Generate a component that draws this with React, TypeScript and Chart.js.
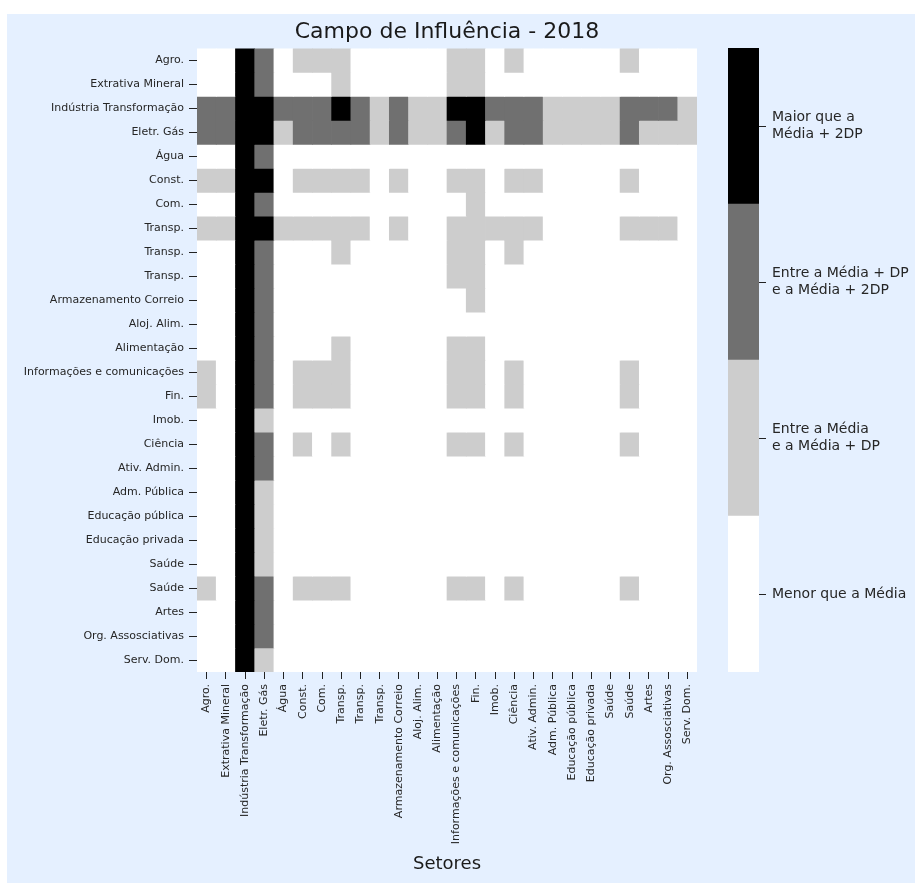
import React, { useEffect, useRef } from 'react';
import { Chart, registerables } from 'chart.js';

Chart.register(...registerables);

const chartTitle = 'Campo de Influência - 2018';
const xAxisTitle = 'Setores';

const sectors = [
  'Agro.', 'Extrativa Mineral', 'Indústria Transformação', 'Eletr. Gás', 'Água',
  'Const.', 'Com.', 'Transp.', 'Transp.', 'Transp.', 'Armazenamento Correio',
  'Aloj. Alim.', 'Alimentação', 'Informações e comunicações', 'Fin.', 'Imob.',
  'Ciência', 'Ativ. Admin.', 'Adm. Pública', 'Educação pública', 'Educação privada',
  'Saúde', 'Saúde', 'Artes', 'Org. Assosciativas', 'Serv. Dom.',
];

// Levels: 0 = Menor que a Média, 1 = Entre a Média e a Média + DP,
// 2 = Entre a Média + DP e a Média + 2DP, 3 = Maior que a Média + 2DP
const agro =          [0,0,3,2,0,1,1,1,0,0,0,0,0,1,1,0,1,0,0,0,0,0,1,0,0,0];
const extrativa =     [0,0,3,2,0,0,0,1,0,0,0,0,0,1,1,0,0,0,0,0,0,0,0,0,0,0];
const industria =     [2,2,3,3,2,2,2,3,2,1,2,1,1,3,3,2,2,2,1,1,1,1,2,2,2,1];
const eletrGas =      [2,2,3,3,1,2,2,2,2,1,2,1,1,2,3,1,2,2,1,1,1,1,2,1,1,1];
const agua =          [0,0,3,2,0,0,0,0,0,0,0,0,0,0,0,0,0,0,0,0,0,0,0,0,0,0];
const construcao =    [1,1,3,3,0,1,1,1,1,0,1,0,0,1,1,0,1,1,0,0,0,0,1,0,0,0];
const comercio =      [0,0,3,2,0,0,0,0,0,0,0,0,0,0,1,0,0,0,0,0,0,0,0,0,0,0];
const transp1 =       [1,1,3,3,1,1,1,1,1,0,1,0,0,1,1,1,1,1,0,0,0,0,1,1,1,0];
const transp2 =       [0,0,3,2,0,0,0,1,0,0,0,0,0,1,1,0,1,0,0,0,0,0,0,0,0,0];
const transp3 =       [0,0,3,2,0,0,0,0,0,0,0,0,0,1,1,0,0,0,0,0,0,0,0,0,0,0];
const armazenamento = [0,0,3,2,0,0,0,0,0,0,0,0,0,0,1,0,0,0,0,0,0,0,0,0,0,0];
const alojAlim =      [0,0,3,2,0,0,0,0,0,0,0,0,0,0,0,0,0,0,0,0,0,0,0,0,0,0];
const alimentacao =   [0,0,3,2,0,0,0,1,0,0,0,0,0,1,1,0,0,0,0,0,0,0,0,0,0,0];
const informacoes =   [1,0,3,2,0,1,1,1,0,0,0,0,0,1,1,0,1,0,0,0,0,0,1,0,0,0];
const financas =      [1,0,3,2,0,1,1,1,0,0,0,0,0,1,1,0,1,0,0,0,0,0,1,0,0,0];
const imobiliario =   [0,0,3,1,0,0,0,0,0,0,0,0,0,0,0,0,0,0,0,0,0,0,0,0,0,0];
const ciencia =       [0,0,3,2,0,1,0,1,0,0,0,0,0,1,1,0,1,0,0,0,0,0,1,0,0,0];
const ativAdmin =     [0,0,3,2,0,0,0,0,0,0,0,0,0,0,0,0,0,0,0,0,0,0,0,0,0,0];
const admPublica =    [0,0,3,1,0,0,0,0,0,0,0,0,0,0,0,0,0,0,0,0,0,0,0,0,0,0];
const educPublica =   [0,0,3,1,0,0,0,0,0,0,0,0,0,0,0,0,0,0,0,0,0,0,0,0,0,0];
const educPrivada =   [0,0,3,1,0,0,0,0,0,0,0,0,0,0,0,0,0,0,0,0,0,0,0,0,0,0];
const saude1 =        [0,0,3,1,0,0,0,0,0,0,0,0,0,0,0,0,0,0,0,0,0,0,0,0,0,0];
const saude2 =        [1,0,3,2,0,1,1,1,0,0,0,0,0,1,1,0,1,0,0,0,0,0,1,0,0,0];
const artes =         [0,0,3,2,0,0,0,0,0,0,0,0,0,0,0,0,0,0,0,0,0,0,0,0,0,0];
const orgAssoc =      [0,0,3,2,0,0,0,0,0,0,0,0,0,0,0,0,0,0,0,0,0,0,0,0,0,0];
const servDom =       [0,0,3,1,0,0,0,0,0,0,0,0,0,0,0,0,0,0,0,0,0,0,0,0,0,0];

const rows = [
  agro, extrativa, industria, eletrGas, agua, construcao, comercio, transp1, transp2,
  transp3, armazenamento, alojAlim, alimentacao, informacoes, financas, imobiliario,
  ciencia, ativAdmin, admPublica, educPublica, educPrivada, saude1, saude2, artes,
  orgAssoc, servDom,
];

const levelColors = ['#ffffff', '#cdcdcd', '#707070', '#000000'];
const levelLabels: (string | string[])[] = [
  'Menor que a Média',
  ['Entre a Média', 'e a Média + DP'],
  ['Entre a Média + DP', 'e a Média + 2DP'],
  ['Maior que a', 'Média + 2DP'],
];

const FONT = 'DejaVu Sans';
const TEXT = '#262626';
const BG = '#e5f0ff';

export default function App() {
  const mainRef = useRef<HTMLCanvasElement>(null);
  const barRef = useRef<HTMLCanvasElement>(null);

  useEffect(() => {
    const main = new Chart(mainRef.current!, {
      type: 'bar',
      data: {
        labels: sectors,
        datasets: rows.map((row, r) => ({
          label: sectors[r],
          data: row.map(() => [r, r + 1]) as any,
          backgroundColor: row.map((v) => levelColors[v]),
          borderWidth: 0,
          grouped: false,
          categoryPercentage: 1,
          barPercentage: 1,
        })),
      },
      options: {
        animation: false,
        responsive: false,
        devicePixelRatio: 1,
        layout: { padding: { left: 0, right: 10, top: 0, bottom: 0 } },
        plugins: {
          legend: { display: false },
          tooltip: { enabled: false },
          title: {
            display: true,
            text: chartTitle,
            fullSize: false,
            color: '#1a1a1a',
            font: { family: FONT, size: 22, weight: 'normal' },
            padding: { top: 5, bottom: 3 },
          },
        },
        scales: {
          x: {
            type: 'category',
            offset: true,
            grid: { offset: false, drawOnChartArea: false, drawTicks: true, tickLength: 7, color: '#222', lineWidth: 1 },
            border: { display: false },
            ticks: {
              autoSkip: false,
              minRotation: 90,
              maxRotation: 90,
              padding: 5,
              color: TEXT,
              font: { family: FONT, size: 11 },
            },
            title: {
              display: true,
              text: xAxisTitle,
              color: '#1a1a1a',
              font: { family: FONT, size: 18 },
              padding: { top: 4, bottom: 8 },
            },
            afterFit: (s: any) => { s.height = 211; },
          },
          y: {
            type: 'linear',
            min: 0,
            max: sectors.length,
            reverse: true,
            afterBuildTicks: (s: any) => { s.ticks = sectors.map((_, i) => ({ value: i + 0.5 })); },
            ticks: {
              autoSkip: false,
              padding: 5,
              color: TEXT,
              font: { family: FONT, size: 11 },
              callback: (_v: any, i: number) => sectors[i],
            },
            grid: { drawOnChartArea: false, drawTicks: true, tickLength: 8, color: '#222', lineWidth: 1 },
            border: { display: false },
            afterFit: (s: any) => { s.width = 190; },
          },
        },
      } as any,
    });

    const bar = new Chart(barRef.current!, {
      type: 'bar',
      data: {
        labels: [''],
        datasets: levelColors.map((c, i) => ({
          label: String(i),
          data: [[i, i + 1]] as any,
          backgroundColor: c,
          borderWidth: 0,
          grouped: false,
          categoryPercentage: 1,
          barPercentage: 1,
        })),
      },
      options: {
        animation: false,
        responsive: false,
        devicePixelRatio: 1,
        layout: { padding: { left: 8, right: 0, top: 34, bottom: 211 } },
        plugins: { legend: { display: false }, tooltip: { enabled: false }, title: { display: false } },
        scales: {
          x: { display: false },
          y: {
            type: 'linear',
            position: 'right',
            min: 0,
            max: levelColors.length,
            afterBuildTicks: (s: any) => { s.ticks = levelLabels.map((_, i) => ({ value: i + 0.5 })); },
            ticks: {
              autoSkip: false,
              padding: 6,
              color: TEXT,
              font: { family: FONT, size: 14 },
              callback: (_v: any, i: number) => levelLabels[i],
            },
            grid: { drawOnChartArea: false, drawTicks: true, tickLength: 7, color: '#222', lineWidth: 1 },
            border: { display: false },
            afterFit: (s: any) => { s.width = 156; },
          },
        },
      } as any,
    });

    return () => {
      main.destroy();
      bar.destroy();
    };
  }, []);

  return (
    <div style={{ position: 'fixed', left: 7, top: 14, width: 908, height: 869, background: BG }}>
      <canvas ref={mainRef} width={700} height={869} style={{ position: 'absolute', left: 0, top: 0, width: 700, height: 869 }} />
      <canvas ref={barRef} width={195} height={869} style={{ position: 'absolute', left: 713, top: 0, width: 195, height: 869 }} />
    </div>
  );
}
